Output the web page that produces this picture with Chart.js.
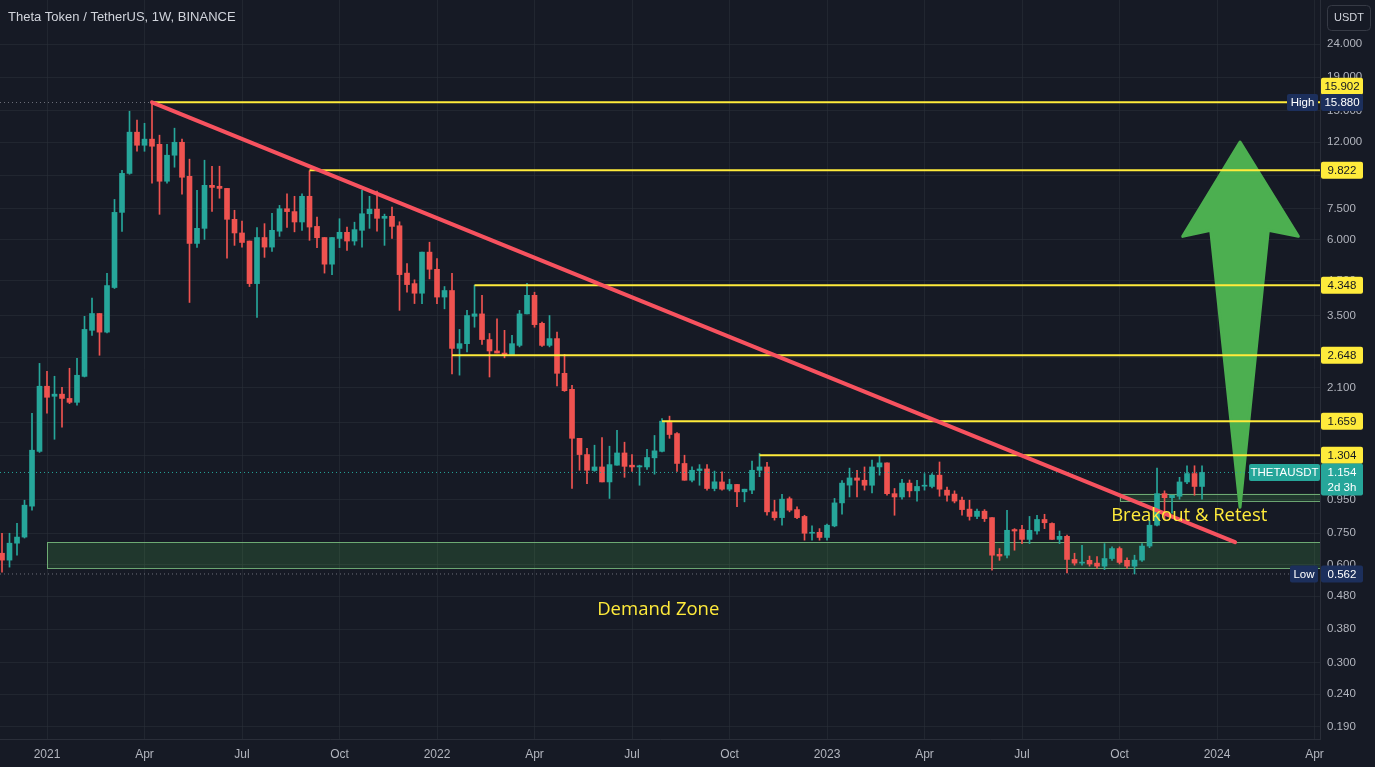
<!DOCTYPE html>
<html>
<head>
<meta charset="utf-8">
<title>THETA / USDT weekly</title>
<script src="https://cdn.jsdelivr.net/npm/chart.js@4.4.0/dist/chart.umd.min.js"></script>
<style>
  html, body { margin: 0; padding: 0; background: #161a25; }
  #wrap { width: 1375px; height: 767px; position: relative; }
</style>
</head>
<body>
<div id="wrap"><canvas id="thetaChart"></canvas></div>
<script>
// weekly candles, week 0 = first week of 2021, first candle is week -6 (23 Nov 2020)
const firstWeek = -6;

const opens = [0.651,0.620,0.699,0.730,0.909,1.34,2.126,1.98,2.01,1.95,
  1.897,2.28,3.16,3.56,3.12,4.28,7.29,9.61,12.87,11.73,
  12.25,11.81,9.09,10.93,11.98,9.41,5.85,6.51,8.83,8.77,
  8.64,6.94,6.30,5.95,4.40,6.10,5.70,6.38,7.48,7.33,
  6.81,8.17,6.60,6.10,5.05,6.06,6.33,5.95,6.42,7.22,
  7.46,6.99,7.09,6.63,4.74,4.40,4.11,5.50,4.87,4.00,
  4.19,2.78,2.875,3.49,3.55,2.96,2.73,2.69,2.66,2.84,
  3.55,4.05,3.32,2.84,2.98,2.33,2.08,1.47,1.31,1.17,
  1.20,1.079,1.215,1.325,1.215,1.20,1.20,1.28,1.34,1.66,
  1.52,1.23,1.092,1.17,1.183,1.03,1.079,1.025,1.06,1.006,
  1.018,1.172,1.20,0.873,0.838,0.958,0.887,0.845,0.75,0.755,
  0.728,0.79,0.93,1.055,1.11,1.092,1.054,1.20,1.235,0.993,
  0.97,1.07,1.013,1.047,1.045,1.132,1.018,0.99,0.948,0.89,
  0.845,0.877,0.838,0.646,0.642,0.77,0.77,0.718,0.762,0.827,
  0.804,0.718,0.734,0.623,0.607,0.619,0.607,0.594,0.627,0.673,
  0.619,0.594,0.62,0.685,0.794,0.993,0.965,0.975,1.079,1.145,
  1.045];

const highs = [0.750,0.750,0.805,0.948,1.756,2.50,2.364,2.282,2.11,2.415,
  2.59,3.49,3.97,3.56,4.73,7.99,9.82,14.93,14.01,13.71,
  15.88,12.60,11.81,13.24,12.25,10.63,8.52,10.55,10.11,10.11,
  8.64,7.40,6.85,5.95,6.55,6.73,7.24,7.66,8.32,8.17,
  8.32,9.78,7.05,6.10,6.10,6.97,6.57,6.80,8.52,8.17,
  8.47,7.20,7.57,6.82,5.07,4.52,5.50,5.90,5.25,4.31,
  4.73,3.18,3.64,4.35,4.05,3.09,3.43,3.16,3.05,3.64,
  4.41,4.14,3.35,3.51,3.12,2.665,2.14,1.47,1.37,1.40,
  1.478,1.39,1.556,1.43,1.31,1.215,1.36,1.50,1.69,1.72,
  1.53,1.304,1.20,1.22,1.22,1.165,1.16,1.10,1.06,1.025,
  1.25,1.32,1.24,0.948,0.989,0.97,0.905,0.852,0.79,0.775,
  0.80,0.96,1.09,1.19,1.172,1.20,1.26,1.304,1.235,1.03,
  1.10,1.094,1.092,1.145,1.145,1.243,1.04,1.013,0.97,0.948,
  0.89,0.887,0.838,0.673,0.883,0.775,0.794,0.845,0.852,0.858,
  0.808,0.762,0.74,0.651,0.689,0.638,0.636,0.697,0.681,0.681,
  0.63,0.642,0.697,0.823,1.19,1.013,0.982,1.115,1.21,1.21,
  1.21];

const lows = [0.569,0.590,0.642,0.725,0.883,1.33,1.756,1.46,1.59,1.88,
  1.858,2.27,3.05,2.648,3.10,4.25,6.37,9.55,11.24,11.24,
  8.96,7.19,8.96,10.04,8.29,3.85,5.69,6.02,7.34,8.06,
  5.27,5.77,5.70,4.31,3.46,5.30,5.53,6.15,6.55,6.35,
  6.42,5.98,5.68,4.74,4.69,5.68,5.57,5.78,5.70,6.51,
  6.38,5.77,6.06,3.64,4.14,3.82,3.82,4.55,3.82,3.68,
  2.32,2.30,2.71,3.23,2.86,2.27,2.69,2.60,2.64,2.81,
  3.55,3.23,2.82,2.81,2.13,2.05,1.031,1.172,1.066,1.163,
  1.079,0.96,1.215,1.115,1.163,1.054,1.18,1.14,1.335,1.47,
  1.163,1.092,1.079,1.054,1.018,1.013,1.018,1.013,0.905,0.937,
  0.993,1.12,0.852,0.823,0.794,0.873,0.832,0.714,0.714,0.714,
  0.714,0.785,0.858,0.97,0.97,1.018,0.998,1.132,0.982,0.852,
  0.955,0.97,0.942,1.018,1.035,0.975,0.942,0.93,0.852,0.823,
  0.832,0.815,0.577,0.619,0.63,0.665,0.697,0.697,0.745,0.775,
  0.718,0.697,0.566,0.598,0.598,0.594,0.585,0.58,0.619,0.603,
  0.585,0.562,0.614,0.677,0.79,0.827,0.865,0.955,1.066,0.982,
  0.955];

const closes = [0.620,0.699,0.730,0.915,1.351,2.126,1.966,2.01,1.95,1.897,
  2.298,3.18,3.56,3.12,4.34,7.29,9.61,12.87,11.73,12.25,
  11.65,9.09,10.93,11.98,9.35,5.85,6.51,8.83,8.70,8.64,
  6.94,6.30,5.89,4.40,6.10,5.70,6.42,7.48,7.33,6.81,
  8.17,6.57,6.09,5.05,6.10,6.33,5.95,6.45,7.22,7.46,
  6.99,7.09,6.60,4.69,4.37,4.11,5.50,4.87,4.00,4.19,
  2.78,2.875,3.51,3.55,2.96,2.73,2.69,2.66,2.875,3.55,
  4.05,3.29,2.84,2.98,2.33,2.06,1.47,1.31,1.172,1.20,
  1.079,1.22,1.325,1.205,1.20,1.21,1.283,1.345,1.66,1.51,
  1.23,1.092,1.172,1.183,1.03,1.08,1.025,1.06,1.006,1.025,
  1.172,1.20,0.873,0.838,0.955,0.883,0.838,0.75,0.755,0.728,
  0.794,0.93,1.07,1.11,1.092,1.054,1.20,1.235,0.993,0.97,
  1.07,1.013,1.045,1.054,1.132,1.025,0.982,0.942,0.887,0.845,
  0.877,0.832,0.642,0.638,0.766,0.762,0.718,0.766,0.827,0.808,
  0.718,0.734,0.623,0.607,0.611,0.603,0.594,0.627,0.673,0.61,
  0.594,0.62,0.685,0.794,0.993,0.965,0.982,1.079,1.145,1.045,
  1.154];

// axis ticks
const tickWeeks = [0, 13, 26, 39, 52, 65, 78, 91, 104, 117, 130, 143, 156, 169];
const tickLabels = ['2021','Apr','Jul','Oct','2022','Apr','Jul','Oct','2023','Apr','Jul','Oct','2024','Apr'];
const priceTicks = [24, 19, 15, 12, 9.5, 7.5, 6, 4.5, 3.5, 2.6, 2.1, 1.65, 1.3, 0.95, 0.75, 0.6, 0.48, 0.38, 0.3, 0.24, 0.19];

// drawings
const levels = [15.902, 9.822, 4.348, 2.648, 1.659, 1.304];
const levelStartWeeks = [14, 35, 57, 54, 82, 95];
const trendWeeks = [14, 158.4];
const trendPrices = [15.9, 0.704];
const highPrice = 15.88, lowPrice = 0.562, lastPrice = 1.154;
const demandZone = { from: 0, lo: 0.585, hi: 0.705 };
const retestZone = { from: 143, lo: 0.943, hi: 0.993 };
const arrowWeeks = [159.07, 166.84, 162.84, 159.07, 155.16, 151.43];
const arrowPrices = [12.0, 6.15, 6.42, 0.902, 6.42, 6.15];

const xMin = -6.267, xMax = 169.73;
const yMin = 0.1745, yMax = 32.84;

const up = '#26a69a', down = '#ef5350';
const gridColor = 'rgba(42,46,57,0.6)';
const yellow = '#ffeb3b';

const weeks = opens.map((_, i) => firstWeek + i);
const candleColors = weeks.map((_, i) => closes[i] >= opens[i] ? up : down);

const datasets = [
  {
    type: 'bar', label: 'wicks',
    data: weeks.map((w, i) => ({ x: w, y: [lows[i], highs[i]] })),
    backgroundColor: candleColors, barThickness: 1, grouped: false, order: 5
  },
  {
    type: 'bar', label: 'bodies',
    data: weeks.map((w, i) => ({ x: w, y: [Math.min(opens[i], closes[i]), Math.max(opens[i], closes[i])] })),
    backgroundColor: candleColors, barThickness: 5, minBarLength: 1, grouped: false, order: 4
  }
];

// dotted price lines
[[highPrice, 'rgba(178,181,190,0.55)'], [lastPrice, up], [lowPrice, 'rgba(178,181,190,0.55)']].forEach(([p, c]) => {
  datasets.push({
    type: 'line', data: [{ x: xMin, y: p }, { x: xMax, y: p }],
    borderColor: c, borderWidth: 1, borderDash: [1, 3], pointRadius: 0, order: 3
  });
});

levels.forEach((lv, i) => {
  datasets.push({
    type: 'line', data: [{ x: levelStartWeeks[i], y: lv }, { x: xMax, y: lv }],
    borderColor: yellow, borderWidth: 2, pointRadius: 0, order: 2
  });
});

datasets.push({
  type: 'line', label: 'trend',
  data: trendWeeks.map((w, i) => ({ x: w, y: trendPrices[i] })),
  borderColor: '#f7525f', borderWidth: 4, borderCapStyle: 'round', pointRadius: 0, order: 1
});

function tag(ctx, x, yc, w, h, bg, fg, text) {
  ctx.fillStyle = bg;
  ctx.beginPath();
  ctx.roundRect(x, yc - h / 2, w, h, 2);
  ctx.fill();
  ctx.fillStyle = fg;
  ctx.font = '11.5px "Liberation Sans", sans-serif';
  ctx.textAlign = 'center';
  ctx.textBaseline = 'middle';
  ctx.fillText(text, x + w / 2, yc + 0.5);
}

const overlay = {
  id: 'overlay',
  beforeDatasetsDraw(chart) {
    const { ctx, chartArea: a, scales: { x, y } } = chart;
    ctx.save();
    ctx.beginPath();
    ctx.rect(a.left, a.top, a.right - a.left, a.bottom - a.top);
    ctx.clip();
    [demandZone, retestZone].forEach(z => {
      const x0 = x.getPixelForValue(z.from);
      const y0 = y.getPixelForValue(z.hi), y1 = y.getPixelForValue(z.lo);
      ctx.fillStyle = 'rgba(76,175,80,0.2)';
      ctx.fillRect(x0, y0, a.right - x0, y1 - y0);
      ctx.strokeStyle = 'rgba(129,199,132,0.8)';
      ctx.lineWidth = 1;
      ctx.strokeRect(Math.round(x0) + 0.5, Math.round(y0) + 0.5, a.right - x0, Math.round(y1 - y0));
    });
    // big green arrow
    ctx.beginPath();
    arrowWeeks.forEach((w, i) => {
      const px = x.getPixelForValue(w), py = y.getPixelForValue(arrowPrices[i]);
      if (i === 0) ctx.moveTo(px, py); else ctx.lineTo(px, py);
    });
    ctx.closePath();
    ctx.fillStyle = '#4caf50';
    ctx.strokeStyle = '#4caf50';
    ctx.lineJoin = 'round';
    ctx.lineWidth = 3;
    ctx.fill();
    ctx.stroke();
    ctx.restore();
  },
  afterDatasetsDraw(chart) {
    const { ctx, scales: { x, y } } = chart;
    ctx.save();
    ctx.fillStyle = '#ffeb3b';
    ctx.font = '18.5px "Open Sans", sans-serif';
    ctx.textAlign = 'center';
    ctx.textBaseline = 'middle';
    ctx.fillText('Demand Zone', x.getPixelForValue(81.5), y.getPixelForValue(0.435));
    ctx.fillText('Breakout & Retest', x.getPixelForValue(152.3), y.getPixelForValue(0.848));
    ctx.restore();
  },
  afterDraw(chart) {
    const { ctx, scales: { y } } = chart;
    ctx.save();
    const ax = 1321, aw = 42, th = 17;
    levels.forEach(lv => {
      let yc = y.getPixelForValue(lv);
      if (lv === 15.902) yc -= 16;
      tag(ctx, ax, yc, aw, th, yellow, '#131722', lv.toFixed(3));
    });
    const navy = '#1c2f5c';
    const yh = y.getPixelForValue(highPrice);
    tag(ctx, 1287, yh, 31, th, navy, '#ffffff', 'High');
    tag(ctx, ax, yh, aw, th, navy, '#ffffff', highPrice.toFixed(3));
    const yl = y.getPixelForValue(lowPrice);
    tag(ctx, 1290, yl, 28, th, navy, '#ffffff', 'Low');
    tag(ctx, ax, yl, aw, th, navy, '#ffffff', lowPrice.toFixed(3));
    const yc = y.getPixelForValue(lastPrice);
    tag(ctx, 1249, yc, 71, th, up, '#ffffff', 'THETAUSDT');
    ctx.fillStyle = up;
    ctx.beginPath();
    ctx.roundRect(ax, yc - 9, aw, 32, 2);
    ctx.fill();
    ctx.fillStyle = '#ffffff';
    ctx.font = '11.5px "Liberation Sans", sans-serif';
    ctx.textAlign = 'center';
    ctx.textBaseline = 'middle';
    ctx.fillText(lastPrice.toFixed(3), ax + aw / 2, yc + 0.5);
    ctx.fillText('2d 3h', ax + aw / 2, yc + 15);

    // title + currency button
    ctx.fillStyle = '#d1d4dc';
    ctx.font = '13px "Liberation Sans", sans-serif';
    ctx.textAlign = 'left';
    ctx.fillText('Theta Token / TetherUS, 1W, BINANCE', 8, 17);
    ctx.strokeStyle = '#363a45';
    ctx.lineWidth = 1;
    ctx.beginPath();
    ctx.roundRect(1327.5, 5.5, 43, 25, 4);
    ctx.stroke();
    ctx.font = '11px "Liberation Sans", sans-serif';
    ctx.textAlign = 'center';
    ctx.fillText('USDT', 1349, 18);
    ctx.restore();
  }
};

const ctx = document.getElementById('thetaChart').getContext('2d');

const thetaChart = new Chart(ctx, {
  type: 'bar',
  data: { datasets: datasets },
  options: {
    responsive: true,
    maintainAspectRatio: false,
    animation: false,
    events: [],
    layout: { padding: 0 },
    plugins: { legend: { display: false }, tooltip: { enabled: false } },
    scales: {
      x: {
        type: 'linear', min: xMin, max: xMax, offset: false,
        grid: { color: gridColor, drawTicks: false, offset: false },
        border: { color: '#2a2e39' },
        ticks: {
          color: '#b2b5be', autoSkip: false, maxRotation: 0, padding: 8,
          font: { family: 'Liberation Sans', size: 12 },
          callback: (v, i) => tickLabels[i]
        },
        afterBuildTicks: s => { s.ticks = tickWeeks.map(v => ({ value: v })); },
        afterFit: s => { s.height = 28; s.paddingLeft = 0; s.paddingRight = 0; }
      },
      y: {
        type: 'logarithmic', position: 'right', min: yMin, max: yMax,
        grid: { color: gridColor, drawTicks: false },
        border: { color: '#2a2e39' },
        ticks: {
          color: '#b2b5be', autoSkip: false, padding: 7,
          font: { family: 'Liberation Sans', size: 11.5 },
          callback: v => Number(v).toFixed(3)
        },
        afterBuildTicks: s => { s.ticks = priceTicks.map(v => ({ value: v })); },
        afterFit: s => { s.width = 55; s.paddingTop = 0; s.paddingBottom = 0; }
      }
    }
  },
  plugins: [overlay]
});
</script>
</body>
</html>
